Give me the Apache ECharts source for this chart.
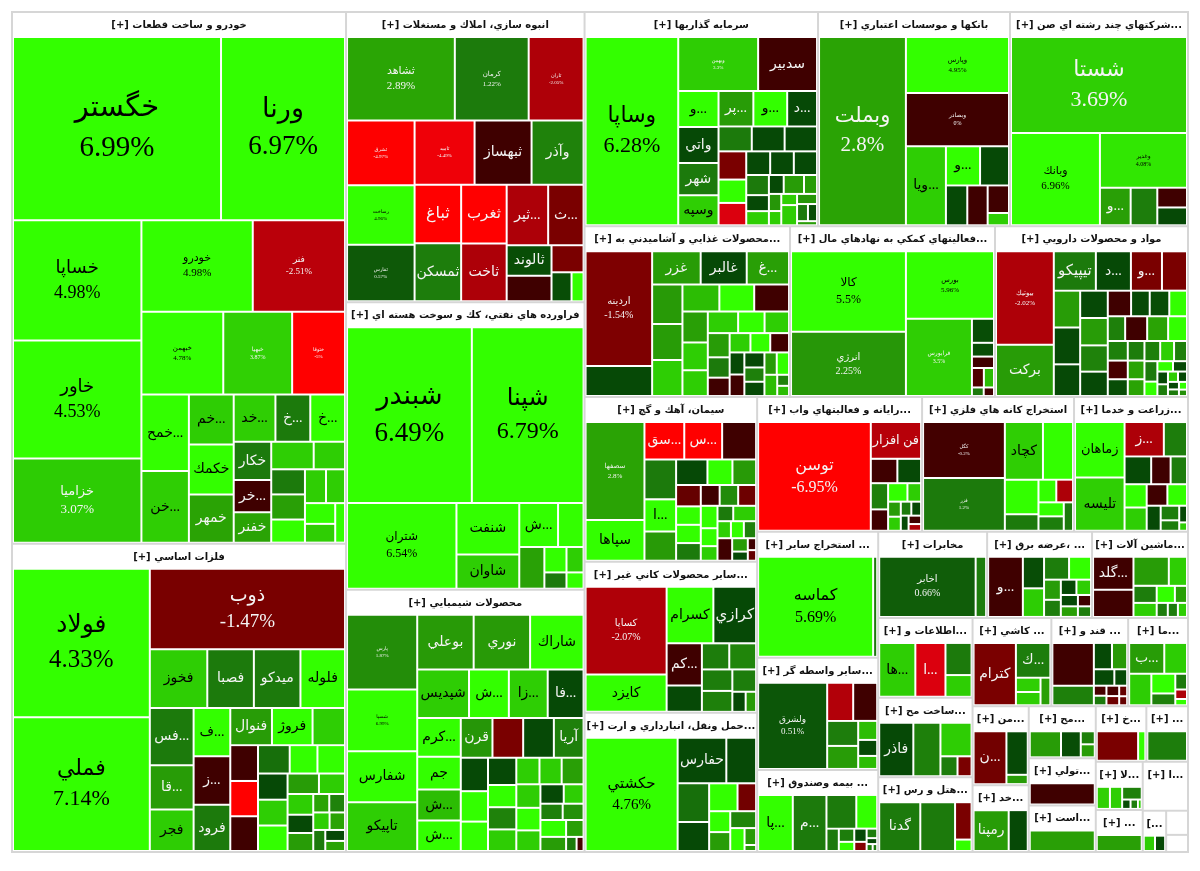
<!DOCTYPE html>
<html>
<head>
<meta charset="utf-8">
<title>Treemap</title>
<script src="https://cdn.jsdelivr.net/npm/echarts@6/dist/echarts.min.js"></script>
<style>
  html, body { margin: 0; padding: 0; background: #fff; }
  #chart { width: 1200px; height: 871px; }
</style>
</head>
<body>
<div id="chart"></div>
<script>
const groupTitles = [
  '[+] خودرو و ساخت قطعات', '[+] فلزات اساسي', '[+] انبوه سازي، املاك و مستغلات',
  '[+] فراورده هاي نفتي، كك و سوخت هسته اي', '[+] محصولات شيميايي', '[+] سرمايه گذاريها',
  '[+] بانكها و موسسات اعتباري', '[+] شركتهاي چند رشته اي صن...', '[+] محصولات غذايي و آشاميدني به...',
  '[+] فعاليتهاي كمكي به نهادهاي مال...', '[+] مواد و محصولات دارويي', '[+] سيمان، آهك و گچ',
  '[+] ساير محصولات كاني غير...', '[+] حمل ونقل، انبارداري و ارت...', '[+] رايانه و فعاليتهاي واب...',
  '[+] استخراج كانه هاي فلزي', '[+] زراعت و خدما...', '[+] استخراج ساير ...',
  '[+] ساير واسطه گر...', '[+] بيمه وصندوق ...', '[+] مخابرات',
  '[+] عرضه برق، ...', '[+] ماشين آلات...', '[+] اطلاعات و...',
  '[+] ساخت مح...', '[+] هتل و رس...', '[+] كاشي ...',
  '[+] قند و ...', '[+] ما...', '[+] من...',
  '[+] خد...', '[+] مح...', '[+] تولي...',
  '[+] است...', '[+] خ...', '[+] ...',
  '[+] لا...', '[+] ...', '[+] ا...',
  '[...', '', ''
];
const groupValues = [
  177354, 102872, 69164, 68449, 62488, 49969, 41088, 38092, 35038, 34953, 32907, 28376, 26048, 23978,
  22193, 20444, 15333, 15246, 13552, 9922, 9374, 9030, 8256, 7530, 7480, 7050, 6952, 6776, 5280,
  4424, 3752, 3484, 3149, 3120, 2805, 2310, 2256, 1974, 2208, 966, 528, 374
];

const cellNames = [
  ['خگستر','ورنا','خساپا','خاور','خزاميا','خودرو','فنر','خبهمن','خبهيا','ختوقا','خمح...','خن...','خم...','خكمك','خمهر','خد...','خ...','خ...','خكار','خر...','خفنر','','','','','','','','','',''],
  ['فولاد','فملي','ذوب','فخوز','فصبا','ميدكو','فلوله','فس...','قا...','فجر','ف...','ز...','فرود','فنوال','فروژ','','','','','','','','','','','','','','','','','','','','','',''],
  ['ثشاهد','كرمان','ثاران','ثشرق','رساخت','ثفارس','ثاميد','ثبهساز','وآذر','ثباغ','ثمسكن','ثغرب','ثاخت','ثپر...','ث...','ثالوند','','','',''],
  ['شبندر','شپنا','شتران','شنفت','شاوان','ش...','','','','','',''],
  ['پارس','شسپا','شفارس','تاپيكو','بوعلي','نوري','شاراك','شپديس','ش...','زا...','فا...','كرم...','جم','ش...','ش...','قرن','','','آريا','','','','','','','','','','','','','','','','','','','','','',''],
  ['وساپا','وبهمن','سدبير','و...','واتي','شهر','وسپه','پر...','و...','د...','','','','','','','','','','','','','','','','','','','','','','',''],
  ['وبملت','وپارس','وبصادر','ويا...','و...','','','','',''],
  ['شستا','وبانك','وغدير','و...','','',''],
  ['اردينه','','غزر','غالبر','غ...','','','','','','','','','','','','','','','','','','','','','','','','','','','',''],
  ['كالا','انرژي','بورس','فرابورس','','','','','','',''],
  ['بيوتيك','بركت','تيپيكو','د...','و...','','','','','','','','','','','','','','','','','','','','','','','','','','','','','','','','','','','','',''],
  ['سصفها','سپاها','سق...','س...','','','ا...','','','','','','','','','','','','','','','','','','','','','','','','',''],
  ['كساپا','كايزد','كسرام','كرازي','كم...','','','','','','','',''],
  ['حكشتي','حفارس','','','','','','','','','','',''],
  ['توسن','فن افزار','','','','','','','','','','','','',''],
  ['كگل','فزر','كچاد','','','','','','','',''],
  ['زماهان','تليسه','ز...','','','','','','','','','','','','',''],
  ['كماسه',''],
  ['ولشرق','','','','','','',''],
  ['پا...','م...','','','','','','','','','','',''],
  ['اخابر',''],
  ['و...','','','','','','','','','','','',''],
  ['گلد...','','','','','','','','','',''],
  ['ها...','ا...','',''],
  ['فاذر','','','',''],
  ['گدنا','','',''],
  ['كترام','ك...','','',''],
  ['','','','','','','','','','','',''],
  ['ب...','','','','','','',''],
  ['ن...','',''],
  ['رمپنا',''],
  ['','','',''],
  [''],
  [''],
  ['',''],
  [''],
  ['','','','','',''],
  [''],
  [''],
  ['',''],
  [''],
  ['']
];

const cellAreas = [
  [38272,22816,15480,15222,10836,10212,8464,6806,5727,4399,3648,3408,2250,2250,2160,1974,1650,1645,1444,1216,1140,1176,868,850,850,782,714,646,630,570,390],
  [20250,18225,15680,3364,2726,2726,2610,2494,1935,1806,1764,1764,1692,1540,1500,1200,990,975,960,896,784,780,770,760,750,640,532,530,468,460,294,290,285,270,252,216,198],
  [8964,6142,4565,4352,4012,3808,3840,3648,3328,2720,2690,2668,2622,2501,2135,1364,1144,864,580,348],
  [21452,19203,9180,3162,2108,1672,1100,1025,550,425,352,272],
  [5325,4402,3621,3479,3135,3135,2970,2548,1960,1911,1764,1716,1452,1364,1350,1280,1240,1240,1200,924,840,812,783,638,638,620,624,598,590,576,552,504,460,391,368,345,440,368,300,150,100,90],
  [16830,4160,3068,1404,1400,1248,1170,1190,1156,1020,800,790,780,754,624,598,546,540,530,440,350,310,270,370,238,204,170,170,308,195,180,150,80],
  [15708,5555,5252,3042,1287,1092,819,780,567,252],
  [16625,8096,4698,1140,988,580,522],
  [7590,1980,1599,1517,1394,1189,1085,1085,992,936,936,780,700,650,650,567,525,525,441,399,399,380,361,323,315,300,285,285,273,273,270,130,120],
  [8769,6993,5632,4836,504,288,240,220,187,96,84],
  [5208,2856,1596,1330,1178,950,936,936,806,729,729,700,650,575,460,483,437,414,525,500,450,378,360,324,315,300,270,306,270,252,255,180,156,140,130,120,100,90,80,70,60,50],
  [5247,2173,1353,1287,1155,1148,924,840,728,580,550,480,414,410,396,357,350,340,340,272,221,220,320,208,200,190,300,190,130,90,80],
  [6699,2849,2491,2279,1400,875,672,660,616,600,500,252,198],
  [9918,2107,1290,1160,870,754,494,420,380,416,312,187,66],
  [11664,1760,616,550,432,352,340,240,182,170,140,130,112,100,80],
  [4510,4264,2166,1710,1150,546,399,375,350,360,260],
  [2695,2597,1326,782,728,532,448,506,506,437,414,345,266,190,128,64],
  [11074,392],
  [5934,988,912,775,713,361,304,247],
  [1855,1802,960,672,264,195,135,156,108,96,60,40,30],
  [5244,570],
  [2100,672,609,575,506,340,289,240,225,195,182,150,140],
  [1320,1080,1015,522,391,322,306,204,154,140,126],
  [1872,1560,806,546],
  [1734,1377,992,323,266],
  [1872,1584,576,176],
  [2623,1190,350,325,270],
  [1769,812,476,399,336,210,126,120,132,117,84,72],
  [1054,682,682,460,276,180,108,72],
  [1650,882,189],
  [1400,760],
  [750,475,168,168],
  [3000],
  [3000],
  [1040,182],
  [1000],
  [266,247,228,72,64,32],
  [1000],
  [1000],
  [300,270],
  [400],
  [300]
];

const cellChanges = [
  [6.99,6.97,4.98,4.53,3.07,4.98,-2.51,4.78,3.87,-5,4.5,3.5,3.3,4.5,2.8,3.5,1.2,4.5,1.2,-0.1,2.8,3.4,3.4,1.2,2.6,4.5,3.5,3.5,4.5,3.5,4.5],
  [4.33,7.14,-1.47,3.4,1.2,1.2,4.5,1.2,2.5,3.3,4.5,-0.1,1.2,2.5,4.5,3.4,-0.1,-5,-0.1,1,4.5,4.5,0.2,3.4,4.5,2.5,3.3,3.4,0.2,2.5,2.8,1.5,3.4,2.8,1.2,0.2,2.8],
  [2.89,1.22,-2.05,-4.97,4.96,0.57,-4.49,-0.1,1.5,-5,1.3,-5,-2,-2,-1.5,0.3,-0.1,-1.5,0.3,4.5],
  [6.49,6.79,6.54,4.5,3.4,4.5,4.5,2.7,4.5,3.4,1.2,4.5],
  [1.87,6.99,4.5,3.4,2.4,2.4,4.5,3.3,4.5,3.4,0.2,4.5,4.5,3,4.5,2.2,-1.5,0.2,1.4,0.2,4.5,4.5,0.2,4.5,1.5,3.3,3.4,3.3,2.6,3.3,4.5,3.4,0.2,3.4,1.4,2,4.5,2.5,2.6,1.2,-0.3,-1.5],
  [6.28,3.3,-0.1,4.5,0.2,1.2,3.6,2.5,4.5,0.2,1.2,0.2,0.2,-1.5,4.5,-3.8,0.2,0.2,0.2,1.2,0.2,3.4,0.2,2.5,2.5,2.2,3.4,3.6,3.3,2.2,1.2,0.3,2.5],
  [2.8,4.95,0,3.4,4.5,0.2,0.2,-0.1,-0.1,3.4],
  [3.69,6.96,4.08,2.6,1.3,-0.1,0.2],
  [-1.54,0.2,2.5,0.2,2.6,2.4,2.5,3.4,3,4.5,-0.1,2.6,3.4,3.4,3.4,4.5,3.4,2.5,1.2,-0.1,3.4,4.5,-0.1,0.2,-0.1,0.2,1.4,0.2,2.5,4.5,3,1.5,3],
  [5.5,2.25,5.96,3.5,0.3,0.3,-0.1,-0.5,3,1.2,-0.1],
  [-2.02,2.5,1.2,0.2,-1.5,-1.5,2.5,0.2,0.2,0.2,2.5,1.5,0.2,-0.1,0.2,0.3,4.5,1.4,-0.1,2.8,4.5,1.4,-0.3,0.3,1.3,2.8,2.8,1.4,3.4,1.4,1.2,4.5,4.5,0.2,0.2,1.3,3.4,0.2,0.2,1.2,4.5,2],
  [2.8,4.5,-5,-5,-0.1,1.2,4.5,2.4,0.2,4.5,2.4,-1,4.5,4.5,1.2,-0.1,1.8,-1.2,4.5,4.5,3.4,1.2,3.3,3.4,4.5,1.4,-0.1,2.5,0.2,-0.1,-1],
  [-2.07,4.5,4.5,0.2,-0.1,0.2,1.3,1.6,1.3,1.4,1.3,0.2,2.4],
  [4.76,0.2,0.2,1,0.2,4.5,-1.3,4.5,2.5,1.6,4.5,2.4,2.5],
  [-6.95,-2.4,-0.1,0.2,1.4,-0.1,4.5,3.3,2.5,3.3,1.2,0.2,0.2,-0.1,-2],
  [-0.2,1.2,3.5,4.5,4.5,1.2,4.5,-2,4.5,1.3,1.2],
  [4.5,3.6,-2,1.3,0.2,-0.1,1.3,4.5,3.4,-0.1,4.5,0.2,1.3,1.3,0.2,3.4],
  [5.69,1.2],
  [0.51,-2.2,-0.1,1.3,2.5,3,0.2,3],
  [4.5,1.2,1.2,4.5,1.2,1.3,4.5,0.2,-1.6,1.3,0.2,1.3,1.2],
  [0.66,1.3],
  [-0.1,0.3,3.2,1.3,4.5,2.5,1.3,0.2,3.3,0.2,2.6,-0.1,1.3],
  [-0.1,-0.1,2.5,3.4,1.3,3.4,4.5,2.6,1.3,1.3,3.4],
  [3.4,-3.8,1.2,3.4],
  [0.2,1.4,3.3,1.3,-1.5],
  [1.2,1.2,-1.5,4.5],
  [-1.5,1.3,3.6,3.4,2.6,1.4],
  [-0.1,1.4,0.2,2.4,0.2,0.2,-0.3,1.2,-0.3,-1.2,-1,-1],
  [2.5,3.2,3.2,4.5,1.4,1.2,-2,4.5],
  [-1.3,0.2,2.5],
  [2.5,0.2],
  [2.5,0.3,1.4,2.5],
  [-0.1],
  [2.6],
  [-1.5,4.5],
  [1.3],
  [3.8,3.5,1.4,0.3,1.3,3.4],
  [2.6],
  [null],
  [3.3,0.2],
  [null],
  [null]
];

// px size of the labels that print name and percent
const percentSizes = {
  'خگستر':29,'ورنا':27,'خساپا':18,'خاور':18,'خزاميا':13,'خودرو':11,'فنر':9,'خبهمن':7,'خبهيا':6,'ختوقا':5,
  'فولاد':25,'فملي':22,'ذوب':19,'ثشاهد':11,'كرمان':7,'ثاران':5,'ثشرق':5,'ثاميد':5,'رساخت':5,'ثفارس':5,
  'شبندر':27,'شپنا':24,'شتران':12,'پارس':5,'شسپا':5,'وساپا':22,'وبهمن':5,'وبملت':21,'وپارس':7,'وبصادر':6,
  'شستا':22,'وبانك':11,'وغدير':6,'اردينه':10,'كالا':12,'انرژي':10,'بورس':7,'فرابورس':6,'بيوتيك':7,
  'سصفها':7,'كساپا':10,'حكشتي':15,'توسن':16,'كگل':5,'فزر':5,'كماسه':16,'ولشرق':9,'اخابر':10
};
// name-only labels that are not the default size
const nameSizes = { 'ثباغ':16,'ثغرب':15,'كرازي':15,'فن افزار':13,'زماهان':13,'تيپيكو':15 };

const colorStops = [
  [-6,'#ff0000'],[-5,'#ff0000'],[-4,'#e0000f'],[-2,'#ad0008'],[-1.5,'#7a0000'],[-0.1,'#3f0000'],[0,'#3f0000'],
  [0.01,'#034204'],[0.5,'#0c5508'],[1.2,'#1c7a0c'],[2.25,'#279708'],[2.89,'#2aa505'],[3.07,'#2dcc04'],[3.87,'#30d004'],[4.3,'#33ff00'],[8,'#33ff00']
];

function toRgb(hex) {
  return [1, 3, 5].map(i => parseInt(hex.substr(i, 2), 16));
}

function changeColor(change) {
  if (change === null) return '#ffffff';
  for (let i = 1; i < colorStops.length; i++) {
    const a = colorStops[i - 1], b = colorStops[i];
    if (change <= b[0]) {
      const t = (change - a[0]) / (b[0] - a[0]);
      const ca = toRgb(a[1]), cb = toRgb(b[1]);
      return 'rgb(' + ca.map((v, k) => Math.round(v + (cb[k] - v) * t)).join(',') + ')';
    }
  }
  return '#33ff00';
}

function cellLabel(name, change) {
  if (!name) return { show: false };
  const size = percentSizes[name];
  const hasPercent = size !== undefined;
  let ink = '#f4f4f4';
  if (change >= 4 || (!hasPercent && change >= 3)) ink = '#000000';
  const fontSize = hasPercent ? size : (nameSizes[name] || 14);
  return {
    show: true,
    formatter: hasPercent ? name + '\n' + change + '%' : name,
    fontSize: fontSize,
    lineHeight: Math.round(fontSize * (hasPercent ? 1.38 : 1.15)),
    color: ink,
    overflow: 'none',
    fontFamily: '"Liberation Serif", "DejaVu Sans", serif'
  };
}

const treeData = groupTitles.map((title, g) => ({
  name: title,
  value: groupValues[g],
  children: cellNames[g].map((name, c) => ({
    name: name,
    value: cellAreas[g][c],
    itemStyle: { color: changeColor(cellChanges[g][c]) },
    label: cellLabel(name, cellChanges[g][c])
  }))
}));

const chart = echarts.init(document.getElementById('chart'));
chart.setOption({
  animation: false,
  tooltip: { show: false },
  series: [{
    type: 'treemap',
    left: 11,
    top: 11,
    width: 1178,
    height: 842,
    sort: false,
    squareRatio: 1,
    roam: false,
    nodeClick: false,
    silent: true,
    breadcrumb: { show: false },
    data: treeData,
    levels: [
      { itemStyle: { borderColor: '#d6d6d6', borderWidth: 2, gapWidth: 2 } },
      {
        itemStyle: { borderColor: '#ffffff', borderWidth: 1, gapWidth: 2 },
        upperLabel: {
          show: true,
          height: 25,
          position: 'inside',
          color: '#111',
          fontSize: 10,
          fontWeight: 'bold',
          fontFamily: '"DejaVu Sans", sans-serif',
          align: 'center',
          verticalAlign: 'middle',
          overflow: 'none'
        }
      },
      { itemStyle: { borderWidth: 0, gapWidth: 0 } }
    ]
  }]
});
</script>
</body>
</html>
